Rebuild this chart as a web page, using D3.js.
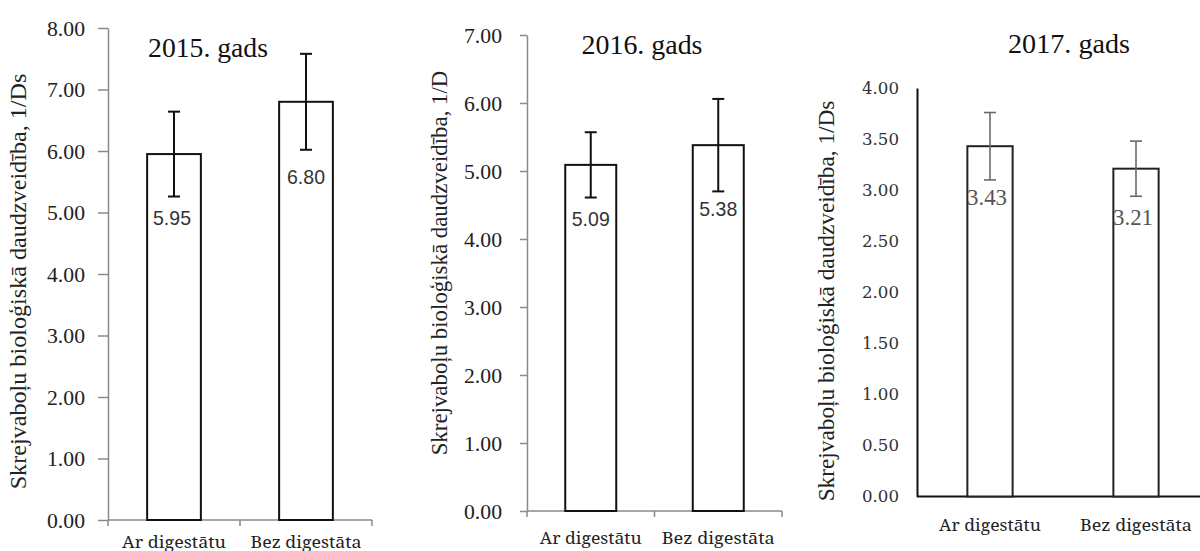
<!DOCTYPE html>
<html>
<head>
<meta charset="utf-8">
<script src="https://cdn.jsdelivr.net/npm/d3@7/dist/d3.min.js"></script>
<style>
  html, body { margin: 0; padding: 0; background: #fff; }
  svg { display: block; }
  .serif { font-family: "Liberation Serif", "Times New Roman", serif; }
  .slab { font-family: "DejaVu Serif", serif; }
  .nserif { font-family: "Noto Serif", "DejaVu Serif", serif; }
  .sans { font-family: "Liberation Sans", Arial, sans-serif; }
</style>
</head>
<body>
<svg id="chart" width="1200" height="551"></svg>
<script>
// ---------------- data ----------------
const categories = ["Ar digestātu", "Bez digestāta"];
const titles = ["2015. gads", "2016. gads", "2017. gads"];
const yLabels = [
  "Skrejvaboļu bioloģiskā daudzveidība, 1/Ds",
  "Skrejvaboļu bioloģiskā daudzveidība, 1/D",
  "Skrejvaboļu bioloģiskā daudzveidība, 1/Ds"
];
const values2015 = [5.95, 6.80];
const errors2015 = [0.69, 0.78];
const values2016 = [5.09, 5.38];
const errors2016 = [0.48, 0.68];
const values2017 = [3.43, 3.21];
const errors2017 = [0.33, 0.27];
const ticks2015 = [0, 1, 2, 3, 4, 5, 6, 7, 8];
const ticks2016 = [0, 1, 2, 3, 4, 5, 6, 7];
const ticks2017 = [0, 0.5, 1, 1.5, 2, 2.5, 3, 3.5, 4];

// ---------------- layout / style ----------------
const panels = [
  {
    values: values2015, errors: errors2015, ticks: ticks2015, max: 8,
    title: titles[0], yLabel: yLabels[0],
    x0: 108, x1: 372, yTop: 28, yBottom: 520, pad: 0.593,
    axisColor: "#8a8a8a", axisWidth: 1.5, tickLen: 10, xTicks: true,
    tickClass: "serif", tickSize: 21, tickW: 38, tickGap: 13, tickColor: "#222",
    titleX: 208, titleY: 56.5, titleW: 120,
    yLabX: 26, yLabY: 281.5, yLabW: 416, yLabSize: 24,
    catY: 547.5, catW: [104, 111],
    errColor: "#111", errWidth: 2,
    valClass: "sans", valSize: 20, valColor: "#333", valW: 38,
    valOffsets: [63.5, 75], valDx: [-2, 0],
    barStroke: "#111"
  },
  {
    values: values2016, errors: errors2016, ticks: ticks2016, max: 7,
    title: titles[1], yLabel: yLabels[1],
    x0: 527, x1: 782, yTop: 35, yBottom: 511, pad: 0.6,
    axisColor: "#8a8a8a", axisWidth: 1.5, tickLen: 7, xTicks: true,
    tickClass: "serif", tickSize: 21, tickW: 38, tickGap: 18, tickColor: "#222",
    titleX: 642, titleY: 54, titleW: 121,
    yLabX: 447, yLabY: 263, yLabW: 385, yLabSize: 23,
    catY: 544, catW: [102, 113],
    errColor: "#111", errWidth: 2,
    valClass: "sans", valSize: 20, valColor: "#333", valW: 38,
    valOffsets: [54.6, 64], valDx: [0, 0],
    barStroke: "#111"
  },
  {
    values: values2017, errors: errors2017, ticks: ticks2017, max: 4,
    title: titles[2], yLabel: yLabels[2],
    x0: 917, x1: 1209, xAxisEnd: 1200, yTop: 88, yBottom: 496.5, pad: 0.69,
    axisColor: "#111", axisWidth: 2, tickLen: 0, xTicks: false,
    tickClass: "slab", tickSize: 16, tickW: 37, tickGap: 18, tickColor: "#333",
    titleX: 1069, titleY: 53, titleW: 122,
    yLabX: 834, yLabY: 301, yLabW: 401, yLabSize: 23.5,
    catY: 531, catW: [102, 112],
    errColor: "#6a6a6a", errWidth: 1.6,
    valClass: "serif", valSize: 23, valColor: "#555", valW: 40,
    valOffsets: [51, 48], valDx: [-3, -3],
    barStroke: "#222"
  }
];

const svg = d3.select("#chart");

// place a text at (x,y), optionally rotated, horizontally scaled to a target width
function place(sel, x, y, rot, targetW) {
  sel.attr("x", 0).attr("y", 0);
  const w = sel.node().getComputedTextLength();
  const k = (w > 0 && targetW) ? targetW / w : 1;
  sel.attr("transform", `translate(${x},${y})${rot ? ` rotate(${rot})` : ""} scale(${k},1)`);
  return sel;
}

panels.forEach(p => {
  const g = svg.append("g");
  const x = d3.scaleBand().domain(categories).range([p.x0, p.x1]).paddingInner(p.pad).paddingOuter(p.pad / 2);
  const y = d3.scaleLinear().domain([0, p.max]).range([p.yBottom, p.yTop]);

  // y axis
  const yAxis = d3.axisLeft(y).tickValues(p.ticks).tickFormat(d3.format(".2f"))
    .tickSizeInner(p.tickLen).tickSizeOuter(0).tickPadding(p.tickGap);
  const ya = g.append("g").attr("transform", `translate(${p.x0},0)`).call(yAxis);
  ya.attr("font-family", null).attr("font-size", null);
  ya.select(".domain").attr("stroke", p.axisColor).attr("stroke-width", p.axisWidth);
  ya.selectAll(".tick line").attr("stroke", p.axisColor).attr("stroke-width", p.axisWidth);
  ya.selectAll(".tick text")
    .attr("class", p.tickClass).style("font-size", p.tickSize + "px").attr("fill", p.tickColor)
    .attr("dy", "0.34em")
    .each(function() { place(d3.select(this), -(p.tickLen + p.tickGap), 0, 0, p.tickW); });

  // x axis line
  const xEnd = p.xAxisEnd || p.x1;
  g.append("line").attr("x1", p.x0).attr("x2", xEnd).attr("y1", y(0)).attr("y2", y(0))
    .attr("stroke", p.axisColor).attr("stroke-width", p.axisWidth);
  if (p.xTicks) {
    const bounds = [p.x0, (x(categories[0]) + x.bandwidth() + x(categories[1])) / 2, p.x1];
    g.selectAll(".xt").data(bounds).enter().append("line")
      .attr("x1", d => d).attr("x2", d => d).attr("y1", y(0)).attr("y2", y(0) + 6)
      .attr("stroke", p.axisColor).attr("stroke-width", p.axisWidth);
  }

  // category labels
  g.selectAll(".cat").data(categories).enter().append("text")
    .attr("class", "nserif")
    .attr("text-anchor", "middle").style("font-size", "17px")
    .attr("fill", "#222").text(d => d)
    .each(function(d, i) { place(d3.select(this), x(d) + x.bandwidth() / 2, p.catY, 0, p.catW[i]); });

  // bars
  g.selectAll(".bar").data(p.values).enter().append("rect")
    .attr("x", (d, i) => x(categories[i])).attr("width", x.bandwidth())
    .attr("y", d => y(d)).attr("height", d => y(0) - y(d))
    .attr("fill", "#fff").attr("stroke", p.barStroke).attr("stroke-width", 2);

  // error bars + value labels
  p.values.forEach((v, i) => {
    const cx = x(categories[i]) + x.bandwidth() / 2;
    const e = p.errors[i];
    g.append("line").attr("x1", cx).attr("x2", cx).attr("y1", y(v + e)).attr("y2", y(v - e))
      .attr("stroke", p.errColor).attr("stroke-width", p.errWidth);
    [v + e, v - e].forEach(t => {
      g.append("line").attr("x1", cx - 6).attr("x2", cx + 6).attr("y1", y(t)).attr("y2", y(t))
        .attr("stroke", p.errColor).attr("stroke-width", p.errWidth);
    });
    const lab = g.append("text").attr("class", p.valClass).attr("dy", "0.35em")
      .attr("text-anchor", "middle").style("font-size", p.valSize + "px")
      .attr("fill", p.valColor).text(v.toFixed(2));
    place(lab, cx + p.valDx[i], y(v) + p.valOffsets[i], 0, p.valW);
  });

  // title
  const tt = g.append("text").attr("class", "serif").attr("text-anchor", "middle")
    .style("font-size", "27px").attr("fill", "#111").text(p.title);
  place(tt, p.titleX, p.titleY, 0, p.titleW);

  // y label
  const yl = g.append("text").attr("class", "serif").attr("text-anchor", "middle")
    .style("font-size", p.yLabSize + "px").attr("fill", "#222").text(p.yLabel);
  place(yl, p.yLabX, p.yLabY, -90, p.yLabW);
});
</script>
</body>
</html>
